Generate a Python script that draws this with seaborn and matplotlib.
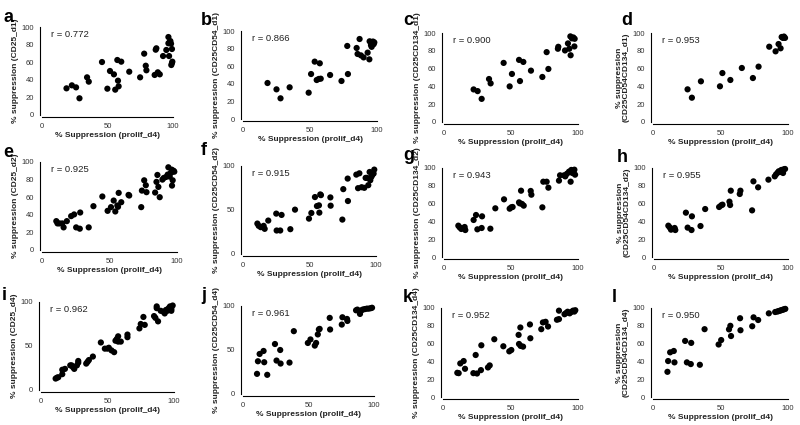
import matplotlib
matplotlib.use("Agg")
import matplotlib.pyplot as plt
import seaborn as sns
import pandas as pd

sns.set_theme(style="white")
plt.rcParams['font.family'] = ['Liberation Sans', 'DejaVu Sans']

# ---------------- data ----------------
a_x = [18.7, 22.8, 26, 28.6, 34.4, 35.7, 45.8, 49.9, 51.9, 54.9, 55.9, 57.5, 58, 58.5, 60.5, 66.6, 74.9, 78, 79.2, 79.7, 86, 86.8, 87.3, 88.4, 89.9, 92.4, 94.9, 96.5, 97, 96.5, 97.5, 98.5, 98, 99.2, 99.2, 98.7, 99.5]
a_y = [30.3, 33.7, 31.4, 19, 42.8, 37.9, 60.2, 29.9, 50, 46.2, 28.8, 62.5, 39, 32.6, 60.6, 49.2, 42.8, 69.7, 56, 50.8, 45.5, 74.2, 75.8, 48.5, 46.2, 67, 73.9, 88.6, 67, 81.5, 83, 81, 84, 75, 59, 56.8, 60.6]

b_x = [18.3, 25, 28, 34.8, 49, 50.8, 53.5, 55, 56.5, 57.3, 58, 65, 73.5, 77.8, 78.3, 84.8, 85.5, 87, 88, 90, 93, 94.3, 94.5, 95.5, 96, 96.5, 97, 97.5, 98]
b_y = [40.9, 33.7, 23.5, 36, 29.9, 51.1, 65.2, 44.3, 45.5, 63.3, 45.8, 50, 43.2, 83, 51.1, 80.7, 73.9, 90.9, 72.3, 70, 75.4, 67.8, 88.3, 84, 82, 86, 88, 85, 87]

c_x = [22.1, 25.1, 28.1, 33.6, 34.8, 44.5, 49, 50.7, 56, 56.7, 59.2, 64.9, 73.4, 76.6, 77.9, 85, 85.3, 90.3, 92.5, 93.5, 94.5, 94.3, 95.5, 96.5, 97.5, 97.3]
c_y = [36.6, 34.7, 26, 48.3, 43.4, 66.4, 40, 54, 69.8, 46, 67.5, 57.7, 50.6, 78.5, 59.6, 82.3, 84.5, 80.4, 88.3, 82.3, 75, 96.2, 94, 95, 93.5, 84.9]

d_x = [25.6, 28.8, 35.5, 49.6, 51.4, 57.3, 65.8, 74, 78.2, 86.1, 90.8, 93, 94.5, 95.3, 96.2, 97, 97.8]
d_y = [36.7, 27.3, 45.7, 40.1, 55, 47.2, 60.7, 49.4, 62.2, 84.6, 79.4, 87.6, 82.8, 95.5, 94.5, 96, 94.5]

e_x = [10.6, 11.5, 13, 15, 16, 18.4, 21.6, 23.8, 25.3, 28, 28.3, 34.6, 38.1, 44.7, 48.6, 51.1, 53.1, 54.3, 55.8, 56.3, 56.8, 58.7, 64.1, 64.6, 73.5, 74, 75.7, 76.9, 77.4, 83.8, 84.8, 85.5, 86.2, 87.2, 89.2, 90.2, 91.9, 93.1, 93.6, 94.6, 95.3, 96.1, 96.3, 96.8, 96.3, 97.5, 98]
e_y = [32.8, 30.2, 30.2, 30.2, 25.7, 32.8, 38.5, 40.4, 25.7, 24.2, 42.6, 25.7, 49.8, 60.8, 44.5, 48.7, 56.2, 43.8, 50.6, 49.1, 64.9, 54.3, 62.6, 61.9, 48.7, 67.5, 79.2, 73.6, 65.7, 65.3, 77.4, 85.3, 71.7, 60, 80, 81.9, 83, 85.7, 94, 83.4, 87.5, 91.3, 88.7, 79.2, 73.2, 90, 89]

f_x = [10.8, 11.8, 13.3, 15.5, 16.3, 19, 25, 25.3, 28, 29, 35.6, 39.1, 49.6, 51.4, 54.1, 55.6, 57.1, 57.4, 58.1, 58.6, 65.7, 65.9, 74.7, 75.4, 78.9, 78.7, 85.2, 86.5, 87.5, 89.2, 91.2, 92.2, 93.2, 94.2, 95.2, 95.7, 96.5, 97.2, 98.2, 98.7]
f_y = [34.6, 32, 30.5, 32, 28.6, 38, 45.9, 26.7, 26.7, 44.4, 28.2, 50.4, 40.2, 46.6, 64.7, 54.5, 55.3, 47, 67.7, 66.9, 64.3, 54.9, 39.1, 73.7, 60.2, 85.7, 90.2, 74.8, 91.7, 75.9, 75.2, 86.5, 86.5, 78.2, 93.2, 83.8, 87.6, 89.8, 91.4, 95.9]

g_x = [10.7, 11.7, 12.9, 14.9, 15.4, 15.9, 22.1, 23.9, 24.9, 28.4, 28.1, 34.6, 38.3, 44.8, 49, 50.2, 51.2, 56, 56.5, 57.5, 58.2, 59.5, 64.7, 65.2, 73.4, 74.1, 76.6, 77.9, 85.8, 86.6, 89.6, 90.5, 91.8, 93.3, 94.5, 94.3, 95, 95.8, 96.8, 97.8, 97.3]
g_y = [35.2, 33.3, 31.5, 32.2, 33.7, 30.3, 41.6, 47.2, 31.1, 45.7, 32.6, 31.8, 54.7, 64.8, 54.3, 55.8, 56.2, 61.4, 60.3, 74.5, 59.6, 57.7, 74.2, 70, 55.8, 84.6, 84.6, 77.9, 85.8, 91.8, 91.8, 90.6, 93.6, 95.9, 84.6, 95.9, 97.8, 94.4, 97.4, 92.5, 98.1]

h_x = [10.7, 11.7, 12.7, 15.4, 15.9, 23.8, 25.1, 28.3, 28, 34.7, 38.2, 48.6, 50.1, 51.1, 56.3, 56.8, 57.3, 64, 64.5, 73.2, 74.2, 77.7, 85.4, 90.1, 91.1, 92.3, 93.1, 94, 95, 96.3, 96.8, 97.8]
h_y = [35.2, 33.3, 30.7, 32.6, 30.3, 49.8, 33, 45.7, 30.3, 34.8, 53.9, 56.2, 58, 58.8, 62.2, 58.4, 74.5, 70.8, 74.5, 52.4, 85, 78.3, 86.9, 90.6, 92.9, 94.8, 96.3, 95.5, 97.8, 94.4, 98.5, 98.9]

i_x = [11, 12, 13, 16, 16, 18, 22, 23, 24, 25, 27, 28, 28, 34, 35, 36, 39, 45, 48, 50, 51, 53, 55, 56, 57, 58, 58, 60, 65, 65, 74, 75, 77, 78, 85, 86, 87, 87, 88, 90, 92, 93, 94, 95, 96, 97, 98, 98, 99]
i_y = [13, 14, 14.5, 18, 23, 24, 28, 28, 26, 24, 28, 31, 33, 30, 32, 34, 38, 54, 47, 47, 48, 45, 43, 56, 58, 55, 61, 55, 63, 60, 70, 75, 83, 74, 84, 82, 95, 93, 78, 90, 89, 87, 91, 90, 93, 95, 90, 92, 96]

j_x = [10.7, 11.4, 12.7, 15.7, 16.2, 18.5, 24.4, 25.6, 28.4, 28.7, 35.5, 38.8, 49.5, 51.5, 54.8, 55.8, 57.1, 57.9, 58.5, 66.2, 66.5, 75.4, 75.9, 79.4, 79.7, 86.3, 87.3, 89.3, 90.4, 91.5, 93, 94.5, 96, 97.5, 98.5]
j_y = [22.9, 37.2, 45.5, 48.9, 36.1, 21.8, 56.8, 38, 50, 34.6, 35.7, 71.4, 58, 62, 55, 58, 67.7, 73.3, 74, 86.5, 73.3, 78.9, 87.2, 85.3, 83, 95.1, 95.9, 91, 95.1, 96, 96.5, 97, 97, 97.5, 98]

k_x = [10.6, 11.6, 12.8, 15.3, 16.3, 22.5, 24.2, 25.2, 28.1, 28.4, 33.3, 34.6, 38, 44.7, 49.1, 50.6, 56, 56.3, 57.3, 57.5, 59.3, 64.4, 64.7, 72.8, 74, 76, 77.8, 84.4, 85.9, 85.9, 90, 91.1, 92.3, 93.8, 95, 96.3, 97.3, 98]
k_y = [27.2, 26.8, 37.7, 40.4, 31.7, 26.8, 47.2, 26.4, 30.2, 58.1, 33.2, 35.5, 64.9, 57, 51.3, 52.8, 69.8, 59.6, 78.1, 57.4, 56.6, 81.5, 66, 76.2, 83.8, 84.5, 79.2, 86.8, 97, 87.5, 93, 94.3, 95.8, 94, 95.5, 97, 96, 97.5]

l_x = [10.7, 11.2, 12.7, 15.4, 15.9, 23.8, 25.1, 28, 28.3, 34.7, 38.2, 48.6, 50.5, 56.3, 57.3, 57.8, 64.5, 64.8, 73.5, 74.5, 77.9, 85.8, 90.5, 92, 93, 94, 95, 96, 97, 98]
l_y = [28.3, 40.4, 50.2, 51.7, 38.9, 63, 38.9, 37, 60.8, 36.2, 76.2, 59, 64, 76, 80, 68.5, 88.5, 75, 79.5, 89.5, 86.5, 94, 95.5, 96, 96.5, 97, 97.5, 98, 98.5, 99]

letters = ['a', 'b', 'c', 'd', 'e', 'f', 'g', 'h', 'i', 'j', 'k', 'l']
r_values = ['0.772', '0.866', '0.900', '0.953', '0.925', '0.915',
            '0.943', '0.955', '0.962', '0.961', '0.952', '0.950']
y_labels = ['% suppression (CD25_d1)', '% suppression (CD25CD54_d1)',
            '% suppression (CD25CD134_d1)', '% suppression\n(CD25CD54CD134_d1)',
            '% suppression (CD25_d2)', '% suppression (CD25CD54_d2)',
            '% suppression (CD25CD134_d2)', '% suppression\n(CD25CD54CD134_d2)',
            '% suppression (CD25_d4)', '% suppression (CD25CD54_d4)',
            '% suppression (CD25CD134_d4)', '% suppression\n(CD25CD54CD134_d4)']
x_label = '% Suppression (prolif_d4)'
series = [(a_x, a_y), (b_x, b_y), (c_x, c_y), (d_x, d_y),
          (e_x, e_y), (f_x, f_y), (g_x, g_y), (h_x, h_y),
          (i_x, i_y), (j_x, j_y), (k_x, k_y), (l_x, l_y)]
y_step = [20, 20, 20, 20, 20, 50, 20, 20, 50, 50, 20, 20]

# ---------------- layout (pixels: left, right, top(100), bottom(0)) ----------------
W, H = 800, 425
boxes = [(42, 173, 27, 115), (243, 377, 31, 119), (444, 578, 33, 122), (653, 788, 33, 122),
         (42, 177, 162, 250), (243, 376, 166, 254), (444, 578, 168, 257), (654, 788, 168, 257),
         (41, 174, 302, 390), (243, 374, 306, 394), (443, 578, 308, 397), (653, 788, 308, 397)]
letter_pos = [(4, 22), (201, 25), (403, 25), (621, 25),
              (3, 157), (201, 155), (403, 160), (617, 162),
              (2, 300), (201, 300), (403, 302), (612, 302)]

fig = plt.figure(figsize=(W / 100, H / 100), dpi=100)
fig.patch.set_facecolor('white')

for idx, (box, (xs, ys)) in enumerate(zip(boxes, series)):
    l, r, t, b = box
    ax = fig.add_axes([l / W, 1 - b / H, (r - l) / W, (b - t) / H])
    df = pd.DataFrame({'x': xs, 'y': ys})
    sns.scatterplot(data=df, x='x', y='y', ax=ax, color='black', s=20,
                    edgecolor='none', linewidth=0, clip_on=False, legend=False)
    ax.set_xlim(0, 100)
    ax.set_ylim(0, 100)
    ax.set_xticks([0, 50, 100])
    ax.set_yticks(list(range(0, 101, y_step[idx])))
    ax.tick_params(axis='both', labelsize=5.5, length=2.5, width=0.7,
                   pad=1.5, colors='black', labelcolor='#333333')
    for side in ['top', 'right']:
        ax.spines[side].set_visible(False)
    for side in ['left', 'bottom']:
        ax.spines[side].set_linewidth(0.8)
        ax.spines[side].set_color('black')
    sns.despine(ax=ax, offset=1.5)
    ax.set_xlabel(x_label, fontsize=6, fontweight='bold', labelpad=2, color='#222222')
    ax.set_ylabel(y_labels[idx], fontsize=6, fontweight='bold', labelpad=2,
                  color='#222222', linespacing=1.0)
    ax.text(0.07, 0.92, 'r = ' + r_values[idx], transform=ax.transAxes,
            fontsize=6.8, va='center', ha='left', color='#222222')
    ax.set_facecolor('none')
    lx, ly = letter_pos[idx]
    fig.text(lx / W, 1 - ly / H, letters[idx], fontsize=13, fontweight='bold',
             ha='left', va='baseline', color='black')

fig.savefig('out.png', dpi=100, facecolor='white')
